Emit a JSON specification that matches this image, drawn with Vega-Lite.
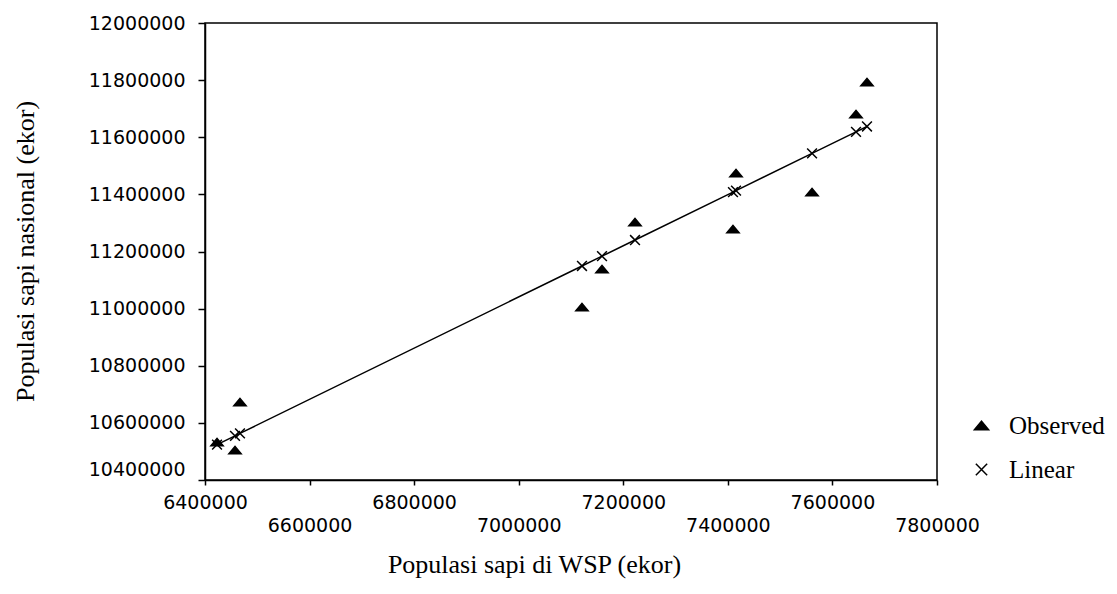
{
  "$schema": "https://vega.github.io/schema/vega-lite/v6.json",
  "autosize": {"type": "none"},
  "padding": {"left": 205, "top": 23, "right": 180, "bottom": 114},
  "width": 732,
  "height": 457,
  "background": "white",
  "config": {
    "view": {"stroke": "black", "strokeWidth": 1.5},
    "axis": {"grid": false, "domainColor": "black", "domainWidth": 1.5, "tickColor": "black", "tickWidth": 1.5,
             "labelColor": "black", "titleColor": "black", "labelFont": "DejaVu Sans", "labelFontSize": 19,
             "titleFont": "Liberation Serif", "titleFontSize": 26, "titleFontWeight": "normal"}
  },
  "data": {"values": [
    {"wsp": 6423000, "nasional": 10533000, "series": "Observed"},
    {"wsp": 6466900, "nasional": 10673000, "series": "Observed"},
    {"wsp": 6457400, "nasional": 10505000, "series": "Observed"},
    {"wsp": 7121000, "nasional": 11005700, "series": "Observed"},
    {"wsp": 7159300, "nasional": 11138700, "series": "Observed"},
    {"wsp": 7222400, "nasional": 11303300, "series": "Observed"},
    {"wsp": 7415600, "nasional": 11474800, "series": "Observed"},
    {"wsp": 7409800, "nasional": 11278800, "series": "Observed"},
    {"wsp": 7561000, "nasional": 11408300, "series": "Observed"},
    {"wsp": 7645100, "nasional": 11681400, "series": "Observed"},
    {"wsp": 7666100, "nasional": 11793400, "series": "Observed"},
    {"wsp": 6423000, "nasional": 10523900, "series": "Linear"},
    {"wsp": 6457400, "nasional": 10554700, "series": "Linear"},
    {"wsp": 6466900, "nasional": 10563200, "series": "Linear"},
    {"wsp": 7121000, "nasional": 11149300, "series": "Linear"},
    {"wsp": 7159300, "nasional": 11183600, "series": "Linear"},
    {"wsp": 7222400, "nasional": 11240200, "series": "Linear"},
    {"wsp": 7409800, "nasional": 11408100, "series": "Linear"},
    {"wsp": 7415600, "nasional": 11413300, "series": "Linear"},
    {"wsp": 7561000, "nasional": 11543500, "series": "Linear"},
    {"wsp": 7645100, "nasional": 11618900, "series": "Linear"},
    {"wsp": 7666100, "nasional": 11637700, "series": "Linear"}
  ]},
  "encoding": {
    "x": {"field": "wsp", "type": "quantitative",
          "scale": {"domain": [6400000, 7800000], "zero": false, "nice": false},
          "axis": {"title": "Populasi sapi di WSP (ekor)", "format": "d",
                   "values": [6400000, 6600000, 6800000, 7000000, 7200000, 7400000, 7600000, 7800000],
                   "tickSize": 5, "labelOverlap": false, "labelFlush": false,
                   "labelPadding": {"condition": {"test": "(datum.value / 200000) % 2 == 1", "value": 31}, "value": 8},
                   "titleX": 329, "titleY": 92, "titleBaseline": "alphabetic", "titleAnchor": "middle", "titleAlign": "center"}},
    "y": {"field": "nasional", "type": "quantitative",
          "scale": {"domain": [10400000, 12000000], "zero": false, "nice": false},
          "axis": {"title": "Populasi sapi nasional (ekor)", "format": "d",
                   "values": [10400000, 10600000, 10800000, 11000000, 11200000, 11400000, 11600000, 11800000, 12000000],
                   "tickSize": 7, "labelPadding": 13, "labelOverlap": false, "labelFlush": false,
                   "labelOffset": {"condition": {"test": "datum.value <= 10400000", "value": -11}, "value": 0},
                   "titleX": -180, "titleY": 228, "titleBaseline": "middle", "titleAlign": "center", "titleAngle": -90}}
  },
  "layer": [
    {
      "transform": [{"filter": "datum.series == 'Linear'"}],
      "mark": {"type": "line", "color": "black", "strokeWidth": 1.5},
      "encoding": {"order": {"field": "wsp", "type": "quantitative"}}
    },
    {
      "mark": {"type": "point", "filled": true, "strokeWidth": 1.5, "opacity": 1, "size": 150},
      "encoding": {
        "shape": {"field": "series", "type": "nominal",
                  "scale": {"domain": ["Observed", "Linear"], "range": ["M-1,0.6L1,0.6L0,-0.6Z", "M-0.8,-0.8L0.8,0.8M-0.8,0.8L0.8,-0.8"]},
                  "legend": {"title": null, "orient": "none", "legendX": 764, "legendY": 390, "padding": 0,
                             "labelFont": "Liberation Serif", "labelFontSize": 25, "labelColor": "black",
                             "symbolSize": 200, "symbolStrokeWidth": 1.5,
                             "labelOffset": 15, "rowPadding": 18, "symbolOpacity": 1}},
        "fill": {"field": "series", "type": "nominal", "scale": {"domain": ["Observed", "Linear"], "range": ["black", "black"]}, "legend": {"title": null, "orient": "none", "legendX": 764, "legendY": 390, "padding": 0,
                             "labelFont": "Liberation Serif", "labelFontSize": 25, "labelColor": "black",
                             "symbolSize": 200, "symbolStrokeWidth": 1.5,
                             "labelOffset": 15, "rowPadding": 18, "symbolOpacity": 1}},
        "stroke": {"field": "series", "type": "nominal", "scale": {"domain": ["Observed", "Linear"], "range": ["black", "black"]}, "legend": {"title": null, "orient": "none", "legendX": 764, "legendY": 390, "padding": 0,
                             "labelFont": "Liberation Serif", "labelFontSize": 25, "labelColor": "black",
                             "symbolSize": 200, "symbolStrokeWidth": 1.5,
                             "labelOffset": 15, "rowPadding": 18, "symbolOpacity": 1}}
      }
    }
  ]
}
